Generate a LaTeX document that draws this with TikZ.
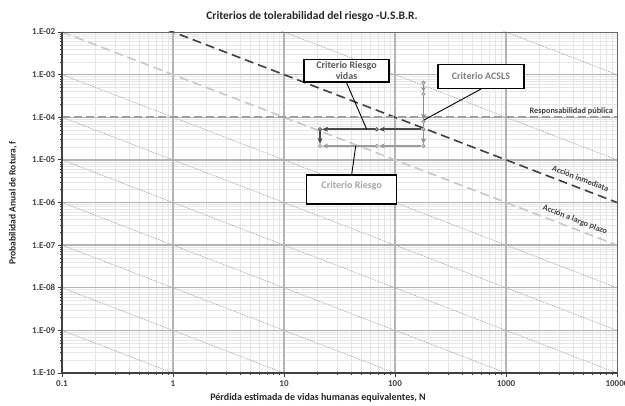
\documentclass[tikz,border=0pt]{standalone}
\usepackage{fontspec}
\setmainfont{Carlito}
\usetikzlibrary{arrows.meta}
\definecolor{txtdark}{HTML}{404040}
\definecolor{titlec}{HTML}{262626}
\definecolor{minorc}{HTML}{E6E6E6}
\definecolor{majorc}{HTML}{B4B4B4}
\definecolor{diagc}{HTML}{A8A8A8}
\definecolor{darkdash}{HTML}{404040}
\definecolor{lightdash}{HTML}{C8C8C8}
\definecolor{respc}{HTML}{9E9E9E}
\definecolor{serdark}{HTML}{4A4A4A}
\definecolor{sergray}{HTML}{8E8E8E}
\definecolor{serlight}{HTML}{9C9C9C}
\definecolor{bvtext}{HTML}{595959}
\definecolor{batext}{HTML}{7F7F7F}
\definecolor{brtext}{HTML}{A6A6A6}
\begin{document}
\begin{tikzpicture}[x=1pt,y=-1pt,
  minorgrid/.style={draw=minorc,line width=0.5pt},
  majorgrid/.style={draw=majorc,line width=1.3pt},
  diagline/.style={draw=diagc,line width=0.6pt,dash pattern=on 1.5pt off 1pt},
  ticklab/.style={font=\fontsize{9}{10}\selectfont\bfseries,text=txtdark,inner sep=0pt},
  linelab/.style={font=\fontsize{8.3}{10}\selectfont\bfseries,text=txtdark,inner sep=0pt},
  callout/.style={draw=black,line width=1.1pt,fill=white,inner sep=0pt,align=center,font=\fontsize{10}{11}\selectfont\bfseries},
  leader/.style={draw=black,line width=0.9pt},
  serarrow/.style={-{Stealth[length=6pt,width=5pt]},line width=1.8pt},
  dot/.style={circle,inner sep=0pt,minimum size=3.6pt,line width=0.6pt}
]
\useasboundingbox (0,0) rectangle (625,406);
\fill[white] (0,0) rectangle (625,406);
% grids and lines clipped to plot area
\begin{scope}
\clip (62,32) rectangle (617,373);
\foreach \d in {0,...,4}{
  \foreach \m in {2,...,9}{
    \pgfmathsetmacro\xx{62+111*(\d+ln(\m)/ln(10))}
    \draw[minorgrid] (\xx,32) -- (\xx,373);
  }
}
\foreach \j in {0,...,7}{
  \foreach \m in {2,...,9}{
    \pgfmathsetmacro\yy{32+42.625*(\j+1)-42.625*ln(\m)/ln(10)}
    \draw[minorgrid] (62,\yy) -- (617,\yy);
  }
}
\foreach \d in {1,...,4}{
  \draw[majorgrid] (62+111*\d,32) -- (62+111*\d,373);
}
\foreach \j in {1,...,7}{
  \draw[majorgrid] (62,32+42.625*\j) -- (617,32+42.625*\j);
}
\foreach \i in {-4,-2,1,2,3,4,5,6,7}{
  \pgfmathsetmacro\ya{32+42.625*\i}
  \pgfmathsetmacro\yb{\ya+213.125}
  \draw[diagline] (62,\ya) -- (617,\yb);
}
\draw[draw=lightdash,line width=1.6pt,dash pattern=on 9pt off 5pt] (62,32) -- (617,245.125);
\draw[draw=darkdash,line width=1.6pt,dash pattern=on 9pt off 5pt] (62,-10.625) -- (617,202.5);
\draw[draw=respc,line width=2.2pt,dash pattern=on 8pt off 4pt] (62,117.25) -- (617,117.25);
\end{scope}
% frame and axes
\draw[draw=txtdark!80,line width=0.9pt] (62,32) rectangle (617,373);
\draw[draw=txtdark,line width=1.6pt] (62,32) -- (62,373) -- (617,373);
\foreach \j in {0,...,8}{
  \draw[draw=txtdark,line width=0.8pt] (57.5,32+42.625*\j) -- (62,32+42.625*\j);
}
\foreach \j in {0,...,7}{
  \foreach \m in {2,...,9}{
    \pgfmathsetmacro\yy{32+42.625*(\j+1)-42.625*ln(\m)/ln(10)}
    \draw[draw=txtdark,line width=0.5pt] (59.5,\yy) -- (62,\yy);
  }
}
\foreach \d in {0,...,5}{
  \draw[draw=txtdark,line width=0.8pt] (62+111*\d,373) -- (62+111*\d,377);
}
\foreach \d in {0,...,4}{
  \foreach \m in {2,...,9}{
    \pgfmathsetmacro\xx{62+111*(\d+ln(\m)/ln(10))}
    \draw[draw=txtdark,line width=0.5pt] (\xx,373) -- (\xx,375.5);
  }
}
% tick labels
\foreach \j/\t in {0/02,1/03,2/04,3/05,4/06,5/07,6/08,7/09,8/10}{
  \node[ticklab,anchor=east] (yl\j) at (55.5,32+42.625*\j) {1.E-\t};
}
\foreach \d/\t in {0/0.1,1/1,2/10,3/100,4/1000,5/10000}{
  \node[ticklab] (xl\d) at (62+111*\d,384) {\t};
}
% titles
\node[font=\fontsize{11.5}{13}\selectfont\bfseries,text=titlec] (title) at (312,16) {Criterios de tolerabilidad del riesgo -U.S.B.R.};
\node[font=\fontsize{10}{12}\selectfont\bfseries,text=titlec] (xtitle) at (318,398) {Pérdida estimada de vidas humanas equivalentes, N};
\node[font=\fontsize{9.5}{12}\selectfont\bfseries,text=titlec,rotate=90] (ytitle) at (13,203) {Probabilidad Anual de Rotura, f};
% line labels
\node[linelab,anchor=east] (lresp) at (613,111.5) {Responsabilidad pública};
\node[linelab,rotate=-21] (linm) at (580.5,178.5) {Acción inmediata};
\node[linelab,rotate=-21] (llarg) at (575,220) {Acción a largo plazo};
% series markers
\node[dot,draw=sergray,fill=sergray!50] (g1) at (423.5,82.7) {};
\node[dot,draw=sergray,fill=sergray!50] (g2) at (423.5,94) {};
\node[dot,draw=sergray,fill=sergray!50] (g3) at (423.5,121.7) {};
\node[dot,draw=sergray,fill=sergray!50] (d1) at (423.5,129.3) {};
\node[dot,draw=sergray,fill=sergray!50] (g4) at (423.5,146) {};
\node[dot,draw=serdark,fill=serdark!50] (d2) at (376.7,129.3) {};
\node[dot,draw=serdark,fill=serdark!50] (d3) at (320,129.3) {};
\node[dot,draw=serlight,fill=serlight!50] (l2) at (376.7,146) {};
\node[dot,draw=serlight,fill=serlight!50] (l3) at (320,146) {};
% series arrows
\draw[serarrow,draw=sergray,-{Stealth[length=5pt,width=4.5pt]}] (g1) -- (g2);
\draw[serarrow,draw=sergray] (g2) -- (g3);
\draw[draw=sergray,line width=1.8pt] (g3) -- (d1);
\draw[serarrow,draw=sergray] (d1) -- (g4);
\draw[serarrow,draw=serdark] (d1) -- (d2);
\draw[serarrow,draw=serdark] (d2) -- (d3);
\draw[serarrow,draw=serdark] (d3) -- (l3);
\draw[serarrow,draw=serlight] (g4) -- (l2);
\draw[serarrow,draw=serlight] (l2) -- (l3);
% callouts
\coordinate (bvend) at (366.7,129.3);
\coordinate (baend) at (424,120);
\coordinate (brend) at (355.7,146);
\node[callout,text=bvtext,minimum width=85pt,minimum height=22.5pt] (bv) at (346.5,70.75) {Criterio Riesgo\\vidas};
\node[callout,text=batext,minimum width=86pt,minimum height=24pt] (ba) at (481,76.5) {Criterio ACSLS};
\node[callout,text=brtext,minimum width=90pt,minimum height=29pt,text height=7pt,text depth=8pt] (br) at (351.7,189.5) {Criterio Riesgo};
\draw[leader] (bv.south) -- (bvend);
\draw[leader] (ba.south) -- (baend);
\draw[leader] (br.north) -- (brend);
\end{tikzpicture}
\end{document}
